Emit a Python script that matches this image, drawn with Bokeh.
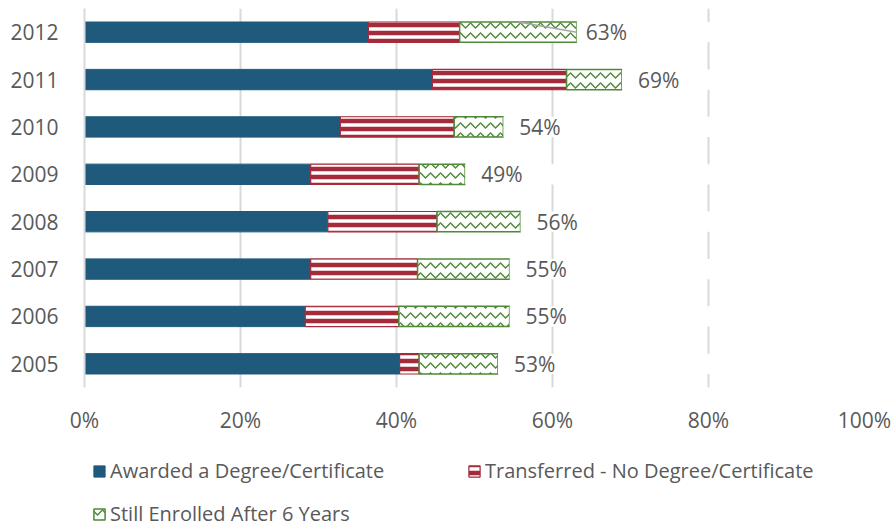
from bokeh.plotting import figure
from bokeh.layouts import column
from bokeh.models import (ColumnDataSource, Legend, LegendItem, FactorRange, Range1d,
                          FixedTicker)
from bokeh.core.properties import value
from bokeh.embed import file_html
from bokeh.resources import INLINE

# ---- data ----
years = ["2005", "2006", "2007", "2008", "2009", "2010", "2011", "2012"]
awarded = [40.4, 28.3, 29.0, 31.2, 29.0, 32.8, 44.6, 36.4]
transferred = [2.5, 12.0, 13.7, 14.0, 13.9, 14.6, 17.2, 11.7]
enrolled = [10.1, 14.2, 11.8, 10.7, 5.9, 6.3, 7.1, 15.0]
total_labels = ["53%", "55%", "55%", "56%", "49%", "54%", "69%", "63%"]
x_ticks = [0, 20, 40, 60, 80, 100]
x_tick_labels = ["0%", "20%", "40%", "60%", "80%", "100%"]
series_names = ["Awarded a Degree/Certificate", "Transferred - No Degree/Certificate",
                "Still Enrolled After 6 Years"]
leader_x = [55.6, 63.1]
leader_year = "2012"

# ---- styles ----
BLUE = "#1F5A7D"
RED = "#A52A3A"
GREEN = "#4E8A37"
TXT = "#595959"
GRID = "#D9D9D9"
FONT = "Open Sans"
FS = "21px"
BH = 0.43
STYLE_BLUE = dict(fill_color=BLUE, line_color=BLUE, line_width=1)
STYLE_RED = dict(fill_color=RED, line_color=RED, line_width=1.2,
                 hatch_pattern="horizontal_line", hatch_color="white",
                 hatch_weight=3.5, hatch_scale=8)
STYLE_GREEN = dict(fill_color="white", line_color=GREEN, line_width=1.5,
                   hatch_pattern="horizontal_wave", hatch_color=GREEN,
                   hatch_weight=1.5, hatch_scale=10)

a1 = awarded
t1 = [a + t for a, t in zip(awarded, transferred)]
e1 = [a + t + e for a, t, e in zip(awarded, transferred, enrolled)]
src = ColumnDataSource(dict(
    year=years, a0=[0] * len(years), a1=a1, t1=t1, e1=e1,
    full=[x_ticks[-1]] * len(years), label=total_labels,
    off=[9 if y == leader_year else 16 for y in years],
))

p = figure(y_range=FactorRange(*years), x_range=Range1d(x_ticks[0], x_ticks[-1]),
           width=894, height=440,
           min_border_left=84, min_border_right=30, min_border_top=8, min_border_bottom=53,
           output_backend="svg", toolbar_location=None, outline_line_color=None)
p.background_fill_color = "white"
p.border_fill_color = "white"

p.hbar(y="year", left="a0", right="a1", height=BH, source=src, **STYLE_BLUE)
p.hbar(y="year", left="a1", right="t1", height=BH, source=src, **STYLE_RED)
p.hbar(y="year", left="t1", right="e1", height=BH, source=src, **STYLE_GREEN)
# white remainder hides grid lines behind each row, as in the original
p.hbar(y="year", left="e1", right="full", height=BH, fill_color="white",
       line_color=None, source=src)

lsrc = ColumnDataSource(dict(x=leader_x, y=[(leader_year, BH / 2), (leader_year, 0.0)]))
p.line(x="x", y="y", line_color="#A6A6A6", line_width=1.5, source=lsrc)

p.text(x="e1", y="year", text="label", x_offset="off", text_baseline="middle",
       text_align="left", text_font=value(FONT), text_font_size=FS,
       text_color=TXT, source=src)

# grid
p.ygrid.grid_line_color = None
p.xgrid.ticker = FixedTicker(ticks=x_ticks)
p.xgrid.grid_line_color = GRID
p.xgrid.grid_line_width = 2

# axes
p.xaxis.ticker = FixedTicker(ticks=x_ticks)
p.xaxis.major_label_overrides = {t: l for t, l in zip(x_ticks, x_tick_labels)}
p.xaxis.axis_line_color = None
p.xaxis.major_tick_line_color = None
p.xaxis.minor_tick_line_color = None
p.xaxis.major_label_standoff = 12
for ax in (p.xaxis, p.yaxis):
    ax.major_label_text_font = FONT
    ax.major_label_text_font_size = FS
    ax.major_label_text_color = TXT
p.yaxis.axis_line_color = GRID
p.yaxis.axis_line_width = 2
p.yaxis.major_tick_line_color = None
p.yaxis.minor_tick_line_color = None
p.yaxis.major_label_standoff = 20

# ---- legend strip below the chart ----
q = figure(width=894, height=87, x_range=Range1d(0, 1), y_range=Range1d(0, 1),
           min_border_left=84, min_border_right=30, min_border_top=9, min_border_bottom=0,
           x_axis_location=None, y_axis_location=None,
           output_backend="svg", toolbar_location=None, outline_line_color=None)
q.grid.visible = False
q.background_fill_color = "white"
q.border_fill_color = "white"
# legend proxies: one sample each, kept outside the strip's visible range
proxy = ColumnDataSource(dict(y=[-5], left=[-5], right=[-4]))
lr_blue = q.hbar(y="y", left="left", right="right", height=BH, source=proxy, **STYLE_BLUE)
lr_red = q.hbar(y="y", left="left", right="right", height=BH, source=proxy, **STYLE_RED)
lr_green = q.hbar(y="y", left="left", right="right", height=BH, source=proxy, **STYLE_GREEN)

common = dict(orientation="horizontal", glyph_width=14, glyph_height=14,
              label_standoff=4, label_text_font=FONT, label_text_font_size="20px",
              label_text_color=TXT, padding=0, border_line_color=None,
              background_fill_alpha=0)
leg1 = Legend(items=[LegendItem(label=series_names[0], renderers=[lr_blue]),
                     LegendItem(label=series_names[1], renderers=[lr_red])],
              spacing=15, label_width=342, location="top_left", margin=8, **common)
leg2 = Legend(items=[LegendItem(label=series_names[2], renderers=[lr_green])],
              spacing=15, location=(8, 0), margin=0, **common)
q.add_layout(leg1, "center")
q.add_layout(leg2, "center")

layout = column(p, q, spacing=0)
open("out.html", "w").write(file_html(layout, INLINE))
